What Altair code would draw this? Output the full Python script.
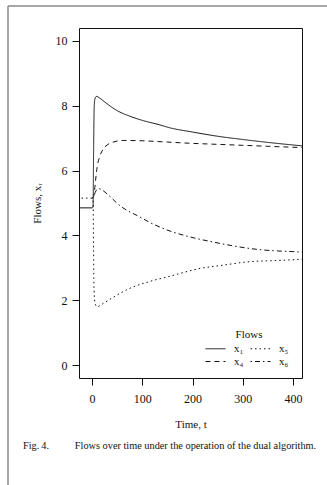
import altair as alt
import pandas as pd

# ---- data ----
t_x1 = [-30, 0, 2, 3, 4, 5, 7, 9, 15, 25, 50, 75, 100, 135, 150, 200, 250, 300, 350, 400, 420]
v_x1 = [4.85, 4.85, 4.87, 6.5, 7.8, 8.15, 8.26, 8.29, 8.24, 8.12, 7.85, 7.68, 7.55, 7.41, 7.34, 7.19, 7.06, 6.96, 6.87, 6.79, 6.76]

t_x4 = [0, 3, 5, 7, 10, 15, 22, 30, 40, 62, 100, 150, 200, 250, 300, 350, 400, 420]
v_x4 = [5.15, 5.2, 5.4, 5.7, 6.1, 6.42, 6.66, 6.79, 6.87, 6.93, 6.92, 6.88, 6.84, 6.81, 6.78, 6.75, 6.72, 6.71]

t_x5 = [-30, 0, 2, 3, 4, 6, 10, 22, 40, 70, 115, 150, 215, 260, 314, 360, 400, 420]
v_x5 = [5.15, 5.15, 5.1, 3.5, 2.3, 1.9, 1.8, 1.9, 2.07, 2.33, 2.58, 2.72, 2.98, 3.08, 3.19, 3.22, 3.25, 3.27]

t_x6 = [0, 3, 6, 10, 14, 20, 30, 56, 95, 115, 149, 201, 240, 280, 334, 370, 400, 420]
v_x6 = [5.15, 5.2, 5.32, 5.42, 5.44, 5.4, 5.28, 4.91, 4.57, 4.4, 4.17, 3.93, 3.8, 3.68, 3.56, 3.52, 3.5, 3.48]

series_names = ["x\u2081", "x\u2084", "x\u2085", "x\u2086"]
x_ticks = [0, 100, 200, 300, 400]
y_ticks = [0, 2, 4, 6, 8, 10]
caption = "Fig.\u20094.\u2003\u2003\u2002Flows over time under the operation of the dual algorithm."

rows = []
for name, ts, vs in [("x\u2081", t_x1, v_x1), ("x\u2084", t_x4, v_x4),
                     ("x\u2085", t_x5, v_x5), ("x\u2086", t_x6, v_x6)]:
    for t, v in zip(ts, vs):
        rows.append({"t": t, "flow": v, "series": name})
df = pd.DataFrame(rows)
one = pd.DataFrame({"caption": [caption]})

FONT = "Liberation Serif"

# solid, dashed, dotted, dot-dash
dash_range = [[1, 0], [5, 4], [1.5, 3], [1.5, 3, 5, 3]]

lines = alt.Chart(df).mark_line(clip=True, strokeWidth=1, color="#111", interpolate="monotone").encode(
    x=alt.X("t:Q", title="Time, t",
            scale=alt.Scale(domain=[-26, 418], nice=False, zero=False),
            axis=alt.Axis(values=x_ticks, format="d", grid=False, domain=False,
                          tickSize=7, tickColor="#111", labelPadding=8,
                          titlePadding=14)),
    y=alt.Y("flow:Q", title="Flows, x\u1d63",
            scale=alt.Scale(domain=[-0.4, 10.4], nice=False, zero=False),
            axis=alt.Axis(values=y_ticks, format="d", grid=False, domain=False,
                          tickSize=7, tickColor="#111", labelPadding=5,
                          titlePadding=13)),
    strokeDash=alt.StrokeDash("series:N", sort=series_names,
                              scale=alt.Scale(domain=series_names, range=dash_range),
                              legend=alt.Legend(title="Flows", orient="none",
                                                legendX=131, legendY=301,
                                                columns=2, symbolType="M-2,0H2",
                                                symbolSize=100, symbolStrokeWidth=1,
                                                symbolStrokeColor="#111",
                                                symbolFillColor="transparent",
                                                titleAnchor="middle", padding=0,
                                                titlePadding=3,
                                                columnPadding=4, rowPadding=1,
                                                labelOffset=13)),
    detail="series:N",
    order="t:Q",
)

frame_left = alt.Chart(one).mark_rule(color="#888", strokeWidth=1.5).encode(
    x=alt.value(-71), y=alt.value(-22), y2=alt.value(460))
frame_top = alt.Chart(one).mark_rule(color="#888", strokeWidth=1.5).encode(
    x=alt.value(-71), x2=alt.value(260), y=alt.value(-22))
cap = alt.Chart(one).mark_text(align="left", baseline="middle", font=FONT,
                               fontSize=10.3, color="#111").encode(
    text="caption:N", x=alt.value(-56), y=alt.value(418))

chart = alt.layer(frame_left, frame_top, cap, lines).properties(
    width=223, height=350,
    autosize=alt.AutoSizeParams(type="none"),
    padding={"left": 79, "top": 28, "right": 25, "bottom": 107},
).configure(font=FONT, background="white").configure_view(
    stroke="#111", strokeWidth=1
).configure_axis(
    labelFont=FONT, titleFont=FONT, labelFontSize=12, titleFontSize=11,
    labelColor="#111", titleColor="#111", titleFontWeight="normal"
).configure_legend(
    labelFont=FONT, titleFont=FONT, labelFontSize=11, titleFontSize=11,
    titleFontWeight="normal", labelColor="#111", titleColor="#111"
)

chart.save("out.html", embed_options={"renderer": "svg", "actions": False})
